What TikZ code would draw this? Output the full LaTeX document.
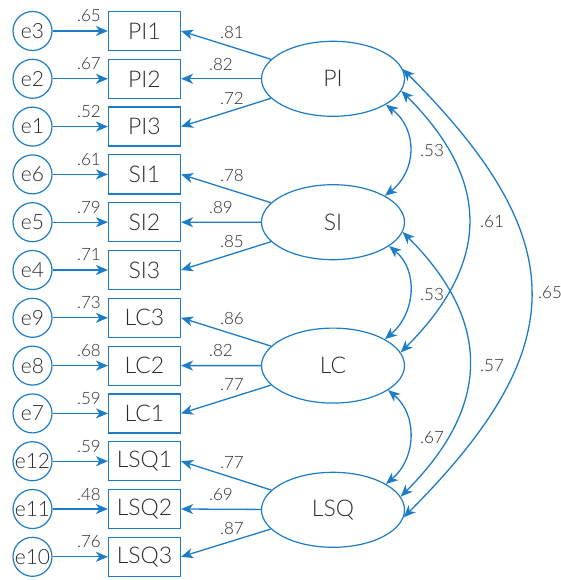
\documentclass[tikz,border=0pt]{standalone}
\usepackage{fontspec}
\IfFontExistsTF{Lato Light}{\setmainfont{Lato Light}}{\setmainfont{Lato}}
\usetikzlibrary{shapes.geometric,arrows.meta}
\definecolor{semblue}{HTML}{1C7CC7}
\definecolor{semtext}{HTML}{2B2B2B}
\tikzset{
  every node/.style={text=semtext},
  obs/.style={draw=semblue, line width=1.2pt, minimum width=72pt, minimum height=39pt, inner sep=0pt, font=\fontsize{23}{23}\selectfont},
  err/.style={draw=semblue, circle, line width=1.2pt, minimum size=39pt, inner sep=0pt, font=\fontsize{21}{21}\selectfont},
  lat/.style={draw=semblue, ellipse, line width=1.2pt, minimum width=143pt, minimum height=75pt, inner sep=0pt, font=\fontsize{23}{23}\selectfont},
  lbl/.style={font=\fontsize{17}{17}\selectfont, inner sep=0pt},
  conn/.style={draw=semblue, line width=1.3pt, -{Stealth[length=12pt,width=10pt,inset=3.5pt]}},
  cov/.style={draw=semblue, line width=1.3pt, {Stealth[length=12pt,width=10pt,inset=3.5pt]}-{Stealth[length=12pt,width=10pt,inset=3.5pt]}},
}
\begin{document}
\begin{tikzpicture}[x=1pt,y=-1pt]
\useasboundingbox (0,0) rectangle (561,580);
% rows
\foreach \n/\t/\e/\k/\el in {PIa/PI1/e3/0/.65, PIb/PI2/e2/1/.67, PIc/PI3/e1/2/.52,
  SIa/SI1/e6/3/.61, SIb/SI2/e5/4/.79, SIc/SI3/e4/5/.71,
  LCa/LC3/e9/6/.73, LCb/LC2/e8/7/.68, LCc/LC1/e7/8/.59,
  LSQa/LSQ1/e12/9/.59, LSQb/LSQ2/e11/10/.48, LSQc/LSQ3/e10/11/.76}{
  \node[obs] (\n) at (144.5, 31+47.8*\k) {\t};
  \node[err] (E\n) at (32.5, 31+47.8*\k) {\e};
  \draw[conn] (E\n) -- (\n);
  \node[lbl] (L\n) at (89, 16+47.8*\k) {\el};
}
% latent
\node[lat] (PI) at (333, 78.8) {PI};
\node[lat] (SI) at (333, 222.2) {SI};
\node[lat] (LC) at (333, 365.6) {LC};
\node[lat] (LSQ) at (333, 509.8) {LSQ};
% loadings
\foreach \g/\a/\b/\c/\k/\la/\lb/\lc in {PI/PIa/PIb/PIc/0/.81/.82/.72, SI/SIa/SIb/SIc/3/.78/.89/.85,
  LC/LCa/LCb/LCc/6/.86/.82/.77, LSQ/LSQa/LSQb/LSQc/9/.77/.69/.87}{
  \draw[conn] (\g) -- (\a.east);
  \draw[conn] (\g) -- (\b.east);
  \draw[conn] (\g) -- (\c.east);
  \node[lbl] (M\a) at (232, 32+47.8*\k) {\la};
  \node[lbl] (M\b) at (221, 64+47.8*\k) {\lb};
  \node[lbl] (M\c) at (232, 98+47.8*\k) {\lc};
}
% covariances
\draw[cov] (PI.-26) .. controls +(32,25) and +(32,-25) .. (SI.27);
\draw[cov] (SI.-23) .. controls +(30,25) and +(30,-25) .. (LC.27);
\draw[cov] (LC.-24) .. controls +(30,25) and +(30,-25) .. (LSQ.26);
\draw[cov] (PI.-10) .. controls +(90,90) and +(90,-90) .. (LC.11);
\draw[cov] (SI.-8) .. controls +(90,90) and +(90,-90) .. (LSQ.11);
\draw[cov] (PI.8) .. controls +(170,170) and +(170,-170) .. (LSQ.-6);
\node[lbl] (c1) at (432, 150) {.53};
\node[lbl] (c2) at (432, 294) {.53};
\node[lbl] (c3) at (432, 438) {.67};
\node[lbl] (c4) at (492, 222) {.61};
\node[lbl] (c5) at (492, 366) {.57};
\node[lbl] (c6) at (550, 293) {.65};
\end{tikzpicture}
\end{document}
